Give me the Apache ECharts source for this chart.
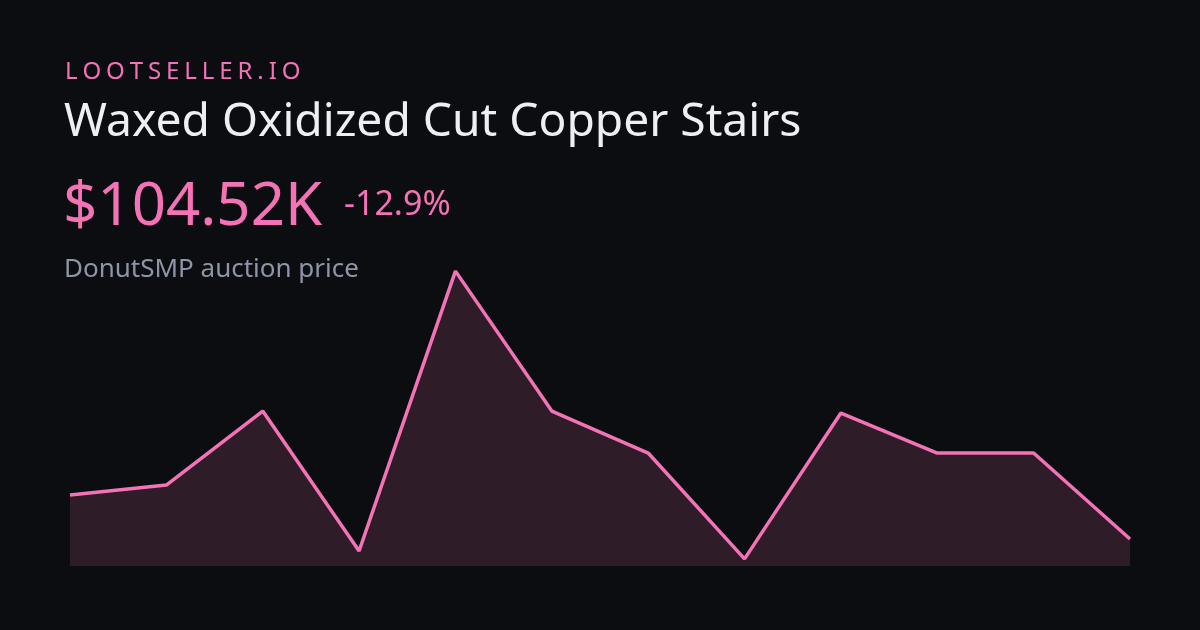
<!DOCTYPE html>
<html>
<head>
<meta charset="utf-8">
<script src="https://cdn.jsdelivr.net/npm/echarts@6/dist/echarts.min.js"></script>
<style>
html,body{margin:0;padding:0;background:#0c0d11;}
#c{width:1200px;height:630px;}
</style>
</head>
<body>
<div id="c"></div>
<script>
// Data (prices in thousands)
const categories = ['1','2','3','4','5','6','7','8','9','10','11','12'];
const prices = [120.0, 123.5, 149.6, 100.3, 198.9, 149.6, 134.8, 97.5, 148.9, 134.8, 134.8, 104.52];
const brandText = 'LOOTSELLER.IO';
const titleText = 'Waxed Oxidized Cut Copper Stairs';
const priceText = '$104.52K';
const changeText = '-12.9%';
const subtitleText = 'DonutSMP auction price';

const FONT = '"Noto Sans", "Open Sans", sans-serif';
const PINK = '#f472b6';

// letter-spaced brand text, built per character
const mctx = document.createElement('canvas').getContext('2d');
function spaced(text, x, y, size, spacing, color) {
  mctx.font = size + 'px ' + FONT;
  const els = [];
  let cx = x;
  for (const ch of text) {
    els.push({type:'text', left: cx, top: y, style:{text: ch, fill: color, font: size + 'px ' + FONT}});
    cx += mctx.measureText(ch).width + spacing;
  }
  return els;
}

const chart = echarts.init(document.getElementById('c'), null, {renderer:'canvas'});
function build() {
  const graphics = [].concat(
    spaced(brandText, 65, 60, 24, 4.9, PINK),
    [
      {type:'text', left: 64, top: 100, style:{text: titleText, fill:'#eeeff2', font:'46.2px ' + FONT}},
      {type:'text', left: 63, top: 178, style:{text: priceText, fill: PINK, font:'60px ' + FONT}},
      {type:'text', left: 344, top: 188, style:{text: changeText, fill: PINK, font:'34px ' + FONT}},
      {type:'text', left: 64, top: 257, style:{text: subtitleText, fill:'#8e95a5', font:'26px ' + FONT}}
    ]
  );
  chart.setOption({
    backgroundColor: '#0c0d11',
    animation: false,
    grid: {left: 70, right: 70, top: 268, bottom: 64},
    xAxis: {type:'category', data: categories, boundaryGap: false, show: false},
    yAxis: {type:'value', min: 95, max: 200, show: false},
    series: [{
      type:'line', data: prices, symbol:'none',
      lineStyle:{color: PINK, width: 3.5},
      areaStyle:{color:'rgba(244,114,182,0.21)'}
    }],
    graphic: graphics
  });
}
if (document.fonts && document.fonts.load) {
  Promise.all([document.fonts.load('22px "Noto Sans"')]).then(build, build);
} else build();
</script>
</body>
</html>
